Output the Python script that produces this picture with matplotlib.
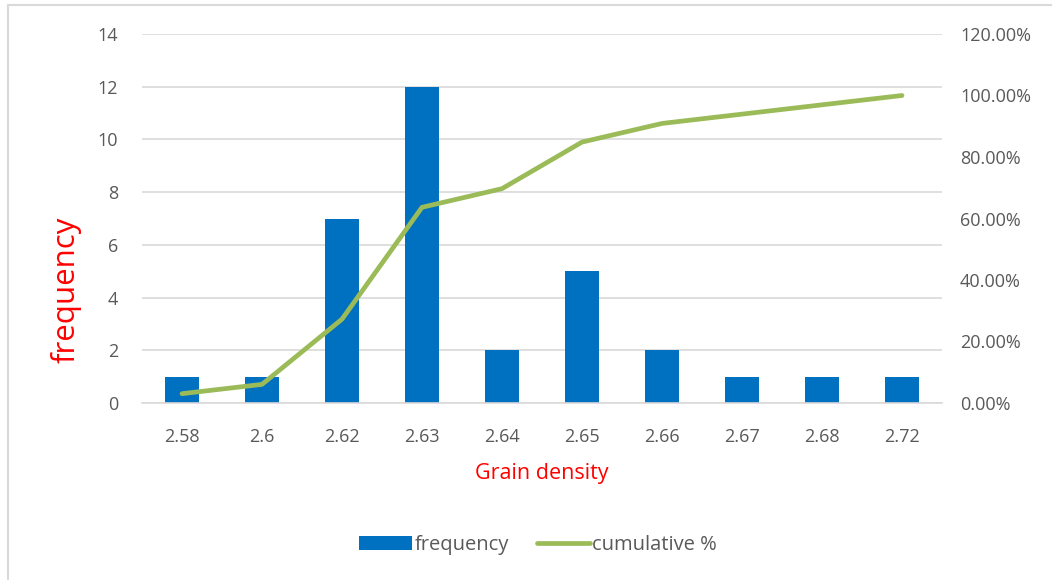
import matplotlib
matplotlib.use("Agg")
import matplotlib.pyplot as plt
from matplotlib.ticker import FuncFormatter, MultipleLocator
from matplotlib.lines import Line2D

plt.rcParams['font.family'] = ['Open Sans', 'DejaVu Sans']

categories = ["2.58", "2.6", "2.62", "2.63", "2.64", "2.65", "2.66", "2.67", "2.68", "2.72"]
frequency = [1, 1, 7, 12, 2, 5, 2, 1, 1, 1]
cumulative = [0.0303, 0.0606, 0.2727, 0.6364, 0.6970, 0.8485, 0.9091, 0.9394, 0.9697, 1.0]

W, H = 1052, 580
fig = plt.figure(figsize=(W / 100, H / 100), dpi=100)

# chart-area frame (left and top edges)
fig.add_artist(Line2D([8 / W, 8 / W], [0, 1 - 5 / H], color="#d9d9d9", lw=1.5))
fig.add_artist(Line2D([8 / W, 1], [1 - 5 / H, 1 - 5 / H], color="#d9d9d9", lw=1.5))

ax = fig.add_axes([142 / W, 1 - 403 / H, 800 / W, (403 - 34) / H])
x = list(range(len(categories)))

ax.bar(x, frequency, width=0.42, color="#0070C0", zorder=2, label="frequency")
ax.set_xlim(-0.5, len(categories) - 0.5)
ax.set_ylim(0, 14)
ax.yaxis.set_major_locator(MultipleLocator(2))
ax.set_xticks(x)
ax.set_xticklabels(categories)
ax.grid(axis="y", color="#d9d9d9", lw=1.2, zorder=0)
ax.set_axisbelow(True)
for s in ["top", "right", "left"]:
    ax.spines[s].set_visible(False)
ax.spines["bottom"].set_color("#d9d9d9")
ax.spines["bottom"].set_linewidth(1.2)
ax.tick_params(axis="both", length=0, labelsize=13, colors="#595959")
ax.tick_params(axis="x", pad=18)
ax.tick_params(axis="y", pad=17)

ax2 = ax.twinx()
ax2.plot(x, cumulative, color="#9BBB59", lw=3.4, solid_capstyle="round",
         solid_joinstyle="round", zorder=3, label="cumulative %")
ax2.set_ylim(0, 1.2)
ax2.yaxis.set_major_locator(MultipleLocator(0.2))
ax2.yaxis.set_major_formatter(FuncFormatter(lambda v, p: f"{v * 100:.2f}%"))
for s in ax2.spines.values():
    s.set_visible(False)
ax2.tick_params(axis="y", length=0, labelsize=13, colors="#595959", pad=13)

ax.set_xlabel("Grain density", color="red", fontsize=15.5, labelpad=12)
fig.text(66 / W, 1 - 290 / H, "frequency", color="red", fontsize=22.5,
         rotation=90, ha="center", va="center")

handles = [ax.patches[0], ax2.lines[0]]
fig.legend(handles, ["frequency", "cumulative %"], loc="center",
           bbox_to_anchor=(538 / W, 1 - 545 / H), ncol=2, frameon=False,
           fontsize=14.5, labelcolor="#595959", handlelength=2.65,
           handleheight=0.7, handletextpad=0.1, columnspacing=1.4)

fig.savefig("out.png", dpi=100, facecolor="white")
